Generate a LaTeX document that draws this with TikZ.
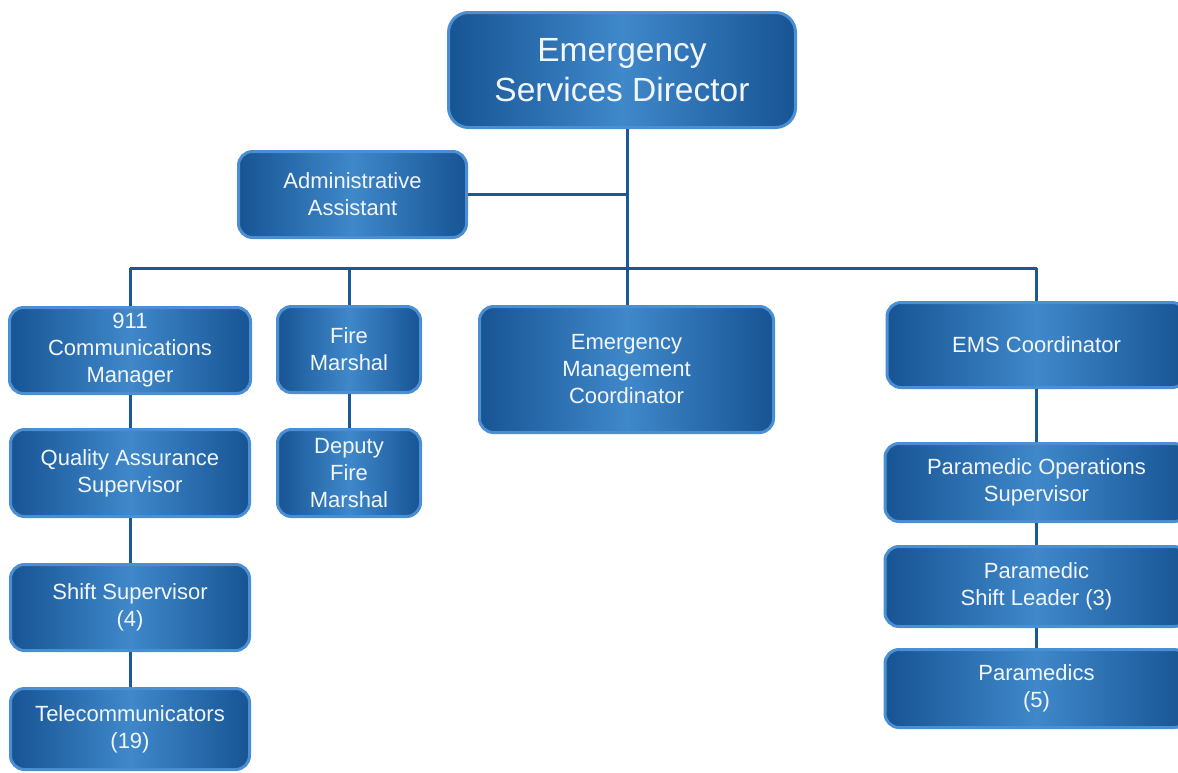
\documentclass[tikz,border=0pt]{standalone}
\usepackage{fontspec}
\setmainfont{Liberation Sans}
\begin{document}
\definecolor{boxdark}{HTML}{175494}
\definecolor{boxlight}{HTML}{3F88CA}
\definecolor{boxrim}{HTML}{4A8FD3}
\definecolor{linkblue}{HTML}{1C5896}
\definecolor{boxtext}{HTML}{F2F6FB}
\begin{tikzpicture}[x=1pt,y=-1pt,
  unit/.style={draw=boxrim, line width=3pt, rounded corners=14pt,
    left color=boxdark, right color=boxdark, middle color=boxlight,
    text=boxtext, align=center, inner sep=0pt,
    font=\fontsize{22}{27}\selectfont},
  headunit/.style={unit, rounded corners=20pt,
    font=\fontsize{33.5}{40}\selectfont},
  link/.style={draw=linkblue, line width=3pt}]
\useasboundingbox (0,0) rectangle (1178,772);

% top of the chart
\node[headunit, minimum width=347pt, minimum height=115pt] (dir) at (622,70)
  {Emergency\\Services Director};
\node[unit, minimum width=228pt, minimum height=86pt] (admin) at (352.5,194.5)
  {Administrative\\Assistant};

% first level
\node[unit, minimum width=241pt, minimum height=86pt] (comm) at (130,350.5)
  {911\\Communications\\Manager};
\node[unit, minimum width=143pt, minimum height=86pt] (fire) at (349,349.5)
  {Fire\\Marshal};
\node[unit, minimum width=294pt, minimum height=126pt] (emc) at (626.5,369.5)
  {Emergency\\Management\\Coordinator};
\node[unit, minimum width=299pt, minimum height=85pt] (ems) at (1036.5,345)
  {EMS Coordinator};

% 911 branch
\node[unit, minimum width=239pt, minimum height=87pt] (qa) at (130,473)
  {Quality Assurance\\Supervisor};
\node[unit, minimum width=239pt, minimum height=86pt] (shift) at (130,607.5)
  {Shift Supervisor\\(4)};
\node[unit, minimum width=239pt, minimum height=81pt] (tele) at (130,729)
  {Telecommunicators\\(19)};

% fire branch
\node[unit, minimum width=143pt, minimum height=87pt] (deputy) at (349,473)
  {Deputy\\Fire\\Marshal};

% EMS branch
\node[unit, minimum width=303pt, minimum height=78pt] (paraops) at (1036.5,482.5)
  {Paramedic Operations\\Supervisor};
\node[unit, minimum width=303pt, minimum height=80pt] (leader) at (1036.5,586.5)
  {Paramedic\\Shift Leader (3)};
\node[unit, minimum width=303pt, minimum height=78pt] (medics) at (1036.5,688.5)
  {Paramedics\\(5)};

% connectors
\coordinate (trunk) at (627,268);
\draw[link] (dir.south -| trunk) -- (trunk);
\draw[link] (admin.east) -- (admin.east -| trunk);
\draw[link] (comm.north |- trunk) -- (ems.north |- trunk);
\draw[link] (comm.north |- trunk) -- (comm.north);
\draw[link] (fire.north |- trunk) -- (fire.north);
\draw[link] (trunk) -- (emc.north -| trunk);
\draw[link] (ems.north |- trunk) -- (ems.north);
\draw[link] (comm) -- (qa);
\draw[link] (qa) -- (shift);
\draw[link] (shift) -- (tele);
\draw[link] (fire) -- (deputy);
\draw[link] (ems) -- (paraops);
\draw[link] (paraops) -- (leader);
\draw[link] (leader) -- (medics);
\end{tikzpicture}
\end{document}
